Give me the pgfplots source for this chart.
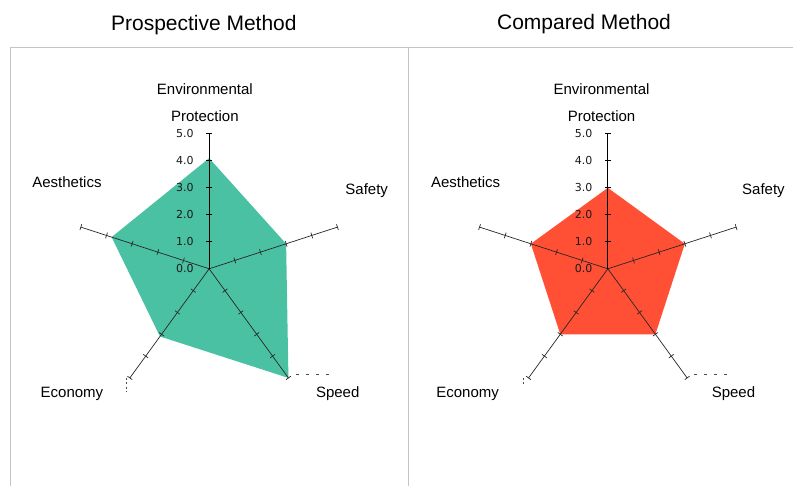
\documentclass[border=0pt]{standalone}
\usepackage{fontspec}
\setmainfont{Liberation Sans}
\newfontfamily\tickfont{DejaVu Sans}
\usepackage{pgfplots}
\pgfplotsset{compat=1.18}
\usepgfplotslibrary{polar}
\definecolor{tealfill}{HTML}{4AC1A3}
\definecolor{redfill}{HTML}{FF5035}
\definecolor{framegray}{HTML}{C4C4C4}

\pgfplotsset{radar/.style={
  scale only axis, width=270pt, height=270pt,
  xmin=0, xmax=360, ymin=0, ymax=5,
  hide axis, clip=false, anchor=center,
}}
\newcommand{\spokes}{%
  \addplot[black!85, line width=0.7pt, mark=|, mark size=3pt, mark indices={2,3,4,5,6}, mark options={rotate=18, line width=0.7pt}] coordinates {(18,0)(18,1)(18,2)(18,3)(18,4)(18,5)};
  \addplot[black!85, line width=0.7pt, mark=|, mark size=3pt, mark indices={2,3,4,5,6}, mark options={rotate=-54, line width=0.7pt}] coordinates {(-54,0)(-54,1)(-54,2)(-54,3)(-54,4)(-54,5)};
  \addplot[black!85, line width=0.7pt, mark=|, mark size=3pt, mark indices={2,3,4,5,6}, mark options={rotate=-126, line width=0.7pt}] coordinates {(-126,0)(-126,1)(-126,2)(-126,3)(-126,4)(-126,5)};
  \addplot[black!85, line width=0.7pt, mark=|, mark size=3pt, mark indices={2,3,4,5,6}, mark options={rotate=162, line width=0.7pt}] coordinates {(162,0)(162,1)(162,2)(162,3)(162,4)(162,5)};
  \addplot[black, line width=1.2pt, mark=|, mark size=3pt, mark indices={2,3,4,5,6}, mark options={rotate=90, line width=0.9pt}] coordinates {(90,0)(90,1)(90,2)(90,3)(90,4)(90,5)};
  \foreach \v/\t in {0/0.0,1/1.0,2/2.0,3/3.0,4/4.0,5/5.0}{%
    \edef\temp{\noexpand\node[anchor=east, xshift=-12pt, font=\noexpand\tickfont\noexpand\fontsize{11}{13}\noexpand\selectfont, text=black!90] at (axis cs:90,\v) {\t};}\temp
  }%
}

\begin{document}
\begin{tikzpicture}[x=1pt,y=1pt]
\path (0,0) rectangle (794,486);
% panel frames
\draw[framegray, line width=1.2pt] (10.5,0) -- (10.5,438.5) -- (794,438.5);
\draw[framegray, line width=1.2pt] (409,0) -- (409,438.5);

% titles
\node[anchor=base, font=\fontsize{21}{25}\selectfont] at (204,455) {Prospective Method};
\node[anchor=base, font=\fontsize{21}{25}\selectfont] at (584.5,456) {Compared Method};

% left radar
\begin{polaraxis}[radar, at={(209.3pt,217pt)}]
  \addplot[fill=tealfill, draw=none] coordinates {(90,4.1) (18,3.0) (-54,5.0) (-126,3.1) (162,3.8)} -- cycle;
  \spokes
\end{polaraxis}

% right radar
\begin{polaraxis}[radar, at={(608.3pt,217pt)}]
  \addplot[fill=redfill, draw=none] coordinates {(90,3.0) (18,3.0) (-54,3.0) (-126,3.0) (162,3.0)} -- cycle;
  \spokes
\end{polaraxis}

% category labels
\begin{scope}[every node/.style={anchor=base, font=\fontsize{15}{18}\selectfont}]
  \node at (205,391) {Environmental};
  \node at (205,364) {Protection};
  \node at (67,298) {Aesthetics};
  \node at (367,291) {Safety};
  \node at (72,88) {Economy};
  \node at (338,88) {Speed};
  \node at (602,391) {Environmental};
  \node at (602,364) {Protection};
  \node at (466,298) {Aesthetics};
  \node at (764,291) {Safety};
  \node at (468,88) {Economy};
  \node at (734,88) {Speed};
\end{scope}

% small truncated-label remnants
\draw[black!70, line width=0.7pt, dash pattern=on 3pt off 7pt] (296,111) -- (334,111);
\draw[black!70, line width=0.7pt, dash pattern=on 3pt off 7pt] (695,111) -- (733,111);
\draw[black!70, line width=0.8pt, dash pattern=on 2pt off 2.5pt] (126,108) -- (126,94);
\draw[black!70, line width=0.8pt, dash pattern=on 2pt off 2.5pt] (524,108) -- (524,101);
\end{tikzpicture}
\end{document}
